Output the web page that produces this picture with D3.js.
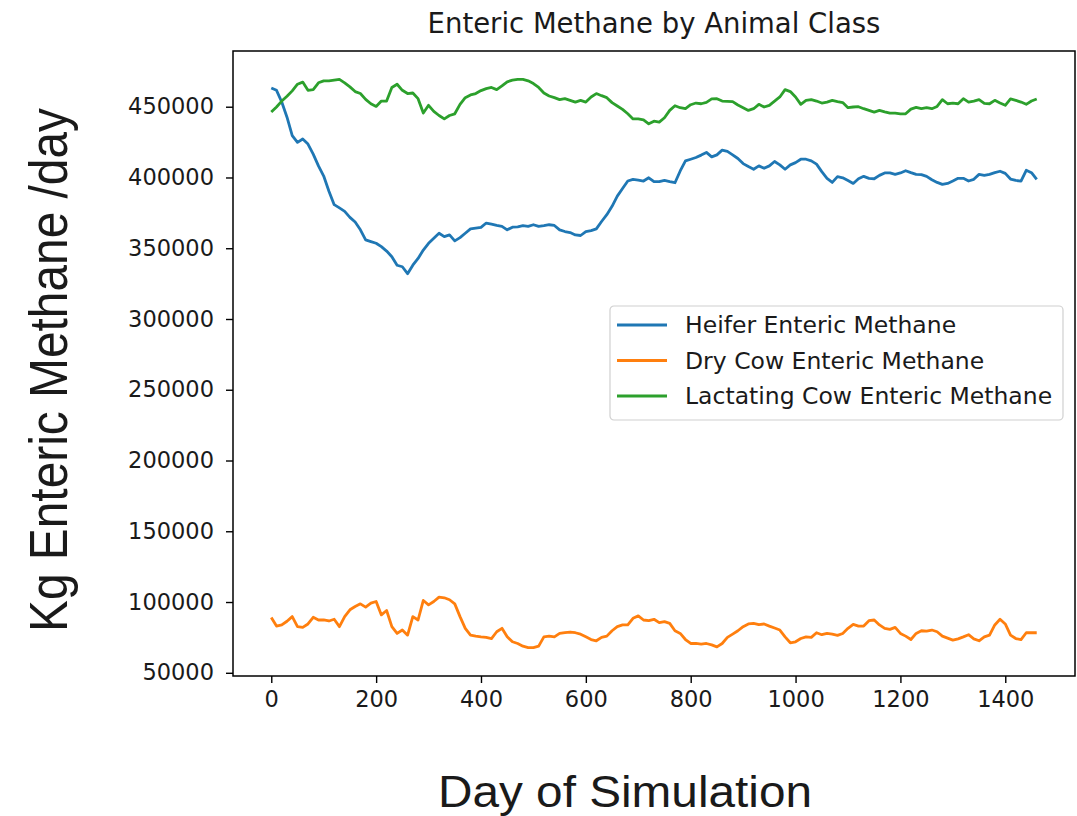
<!DOCTYPE html>
<html>
<head>
<meta charset="utf-8">
<script src="https://cdn.jsdelivr.net/npm/d3@7"></script>
<style>
  html, body { margin: 0; padding: 0; background: #fff; }
  svg text { fill: #1a1a1a; }
</style>
</head>
<body>
<div id="chart"></div>
<script>
// sampled every 10 days of the simulation, days 0..1460
let stepDays = 10
let days = d3.range(0, 1461, stepDays)

let heifer = [
  463300, 461600, 453300, 442600, 429600, 424800, 427200, 423600, 416500, 408200,
  401000, 390300, 380800, 378500, 376100, 371800, 368500, 363000, 355900, 354700,
  353500, 351100, 348000, 344000, 338000, 336900, 332000, 338000, 342800, 348700,
  353500, 357100, 360600, 358200, 359400, 355200, 357500, 360600, 363700, 364200,
  364700, 367800, 367000, 366100, 365400, 363000, 364900, 365100, 365900, 365400,
  366600, 365400, 365900, 366600, 366100, 363000, 361800, 361100, 359400, 359000,
  361800, 362500, 363700, 368900, 373700, 379600, 386800, 392200, 397500, 398700,
  398200, 397500, 399800, 397000, 397000, 397900, 397000, 396300, 404600, 411700,
  412900, 414100, 415800, 417700, 414600, 416000, 419300, 418400, 416000, 413400,
  409800, 407700, 405800, 408200, 406500, 408200, 411300, 408900, 405800, 408900,
  410500, 412900, 412900, 411700, 409400, 404100, 399400, 396500, 400600, 399800,
  397900, 395800, 399100, 400800, 399400, 399100, 401500, 403200, 403200, 402200,
  403200, 404800, 403400, 402200, 402000, 400800, 398400, 396500, 395100, 395800,
  397500, 399400, 399400, 397500, 398700, 402200, 401500, 402200, 403400, 404400,
  402900, 398900, 397900, 397500, 405100, 403400, 398700
]

let dryCow = [
  89000, 83000, 83800, 86400, 89700, 82600, 82100, 84500, 89200, 87300,
  87300, 86600, 87800, 82600, 89700, 94500, 96800, 98700, 96400, 99200,
  100400, 90900, 94000, 82600, 77800, 80200, 76600, 89700, 87300, 101100,
  98000, 100400, 103500, 103000, 101600, 98700, 89700, 81400, 76600, 75900,
  75400, 75000, 74200, 79000, 81400, 75400, 71900, 70700, 68800, 67800,
  67800, 68800, 75400, 75900, 75400, 77800, 78300, 78800, 78300, 77300,
  75400, 73500, 72600, 75000, 75900, 79700, 82600, 83800, 83800, 88500,
  90200, 87300, 86800, 87800, 85400, 86100, 84900, 79700, 77800, 73500,
  70700, 70700, 70200, 70700, 69700, 68300, 70700, 75000, 77300, 79700,
  82600, 84500, 84900, 84000, 84500, 83000, 81600, 80200, 75400, 71200,
  71900, 74200, 75400, 75000, 78300, 76900, 77800, 77300, 76400, 77800,
  81400, 84200, 83000, 83000, 86800, 87300, 83800, 81400, 80700, 82100,
  77800, 75900, 73500, 77800, 79700, 79500, 80200, 79000, 75900, 74500,
  73100, 74000, 75400, 76900, 74000, 72600, 75400, 76600, 83800, 87800,
  84500, 76600, 74200, 73500, 78300, 78300, 78300
]

let lactating = [
  446200, 449800, 454000, 457400, 461200, 465900, 467400, 461600, 462100, 466900,
  468300, 468300, 468800, 469300, 466900, 464000, 460700, 459300, 455200, 452100,
  450200, 454000, 454000, 463600, 465900, 461600, 459300, 459700, 455700, 445500,
  451000, 446700, 443800, 441400, 443800, 445000, 451700, 456400, 458300, 459300,
  461400, 462800, 463600, 462100, 464700, 467600, 468800, 469300, 469300, 468300,
  466400, 463600, 459700, 457600, 456400, 455000, 455700, 454500, 453300, 454500,
  453300, 456900, 459300, 457800, 456400, 452900, 450500, 448100, 445000, 441400,
  441400, 440700, 437900, 439800, 439100, 442200, 447400, 450700, 449300, 448600,
  451400, 452600, 452100, 453100, 455500, 455700, 454000, 453800, 453600, 451200,
  449300, 447400, 448600, 451700, 449800, 451000, 454000, 456900, 462100, 460700,
  456900, 451700, 454500, 455000, 454000, 452600, 453300, 454500, 453600, 452900,
  449300, 449800, 450000, 448600, 447400, 446200, 447400, 446400, 445500, 445500,
  445000, 445000, 448300, 449500, 448600, 449300, 448600, 450200, 455000, 452100,
  452600, 452100, 455700, 453300, 454000, 455000, 452400, 452100, 454500, 452600,
  451000, 455500, 454500, 453300, 451700, 454000, 455500
]

let seriesNames = ['Heifer Enteric Methane', 'Dry Cow Enteric Methane', 'Lactating Cow Enteric Methane']
let seriesColors = ['#1f77b4', '#ff7f0e', '#2ca02c']
let xTicks = [0, 200, 400, 600, 800, 1000, 1200, 1400]
let yTicks = [50000, 100000, 150000, 200000, 250000, 300000, 350000, 400000, 450000]

let chartTitle = 'Enteric Methane by Animal Class'
let xLabel = 'Day of Simulation'
let yLabel = 'Kg Enteric Methane /day'

let width = 1077
let height = 816
let plot = { left: 233, right: 1075, top: 51, bottom: 676 }

let svg = d3.select('#chart')
  .append('svg')
  .attr('width', width)
  .attr('height', height)

// matplotlib style 5% margins around the data
let xMin = 0, xMax = 1460
let allY = heifer.concat(dryCow, lactating)
let yMin = d3.min(allY), yMax = d3.max(allY)
let xPad = (xMax - xMin) * 0.05
let yPad = (yMax - yMin) * 0.05

let x = d3.scaleLinear()
  .domain([xMin - xPad, xMax + xPad])
  .range([plot.left, plot.right])

let y = d3.scaleLinear()
  .domain([yMin - yPad, yMax + yPad])
  .range([plot.bottom, plot.top])

let tickFont = 'DejaVu Sans, sans-serif'

let xAxis = svg.append('g')
  .attr('transform', `translate(0,${plot.bottom})`)
  .call(d3.axisBottom(x).tickValues(xTicks).tickSize(7).tickPadding(8).tickFormat(d3.format('d')))
xAxis.select('.domain').remove()
xAxis.selectAll('line').attr('stroke', '#000').attr('stroke-width', 1.4)
xAxis.selectAll('text')
  .attr('font-family', tickFont)
  .attr('font-size', 22.5)
  .attr('fill', '#222')

let yAxis = svg.append('g')
  .attr('transform', `translate(${plot.left},0)`)
  .call(d3.axisLeft(y).tickValues(yTicks).tickSize(7).tickPadding(12).tickFormat(d3.format('d')))
yAxis.select('.domain').remove()
yAxis.selectAll('line').attr('stroke', '#000').attr('stroke-width', 1.4)
yAxis.selectAll('text')
  .attr('font-family', tickFont)
  .attr('font-size', 22.5)
  .attr('fill', '#222')

let line = d3.line()
  .x((d, i) => x(days[i]))
  .y(d => y(d))

let allSeries = [heifer, dryCow, lactating]
svg.append('g')
  .selectAll('path')
  .data(allSeries)
  .enter()
  .append('path')
  .attr('d', d => line(d))
  .attr('fill', 'none')
  .attr('stroke', (d, i) => seriesColors[i])
  .attr('stroke-width', 2.8)
  .attr('stroke-linejoin', 'round')

// spines
svg.append('rect')
  .attr('x', plot.left)
  .attr('y', plot.top)
  .attr('width', plot.right - plot.left)
  .attr('height', plot.bottom - plot.top)
  .attr('fill', 'none')
  .attr('stroke', '#000')
  .attr('stroke-width', 1.5)

// legend
let legend = svg.append('g').attr('transform', 'translate(610,306)')
legend.append('rect')
  .attr('width', 453)
  .attr('height', 114)
  .attr('rx', 4)
  .attr('fill', '#fff')
  .attr('fill-opacity', 0.8)
  .attr('stroke', '#d0d0d0')
  .attr('stroke-width', 1.2)

let rows = legend.selectAll('g.row')
  .data(seriesNames)
  .enter()
  .append('g')
  .attr('class', 'row')
  .attr('transform', (d, i) => `translate(0,${19 + i * 35.5})`)
rows.append('line')
  .attr('x1', 7)
  .attr('x2', 57)
  .attr('stroke', (d, i) => seriesColors[i])
  .attr('stroke-width', 2.8)
rows.append('text')
  .attr('x', 75)
  .attr('dy', '0.35em')
  .attr('font-family', tickFont)
  .attr('font-size', 23.5)
  .attr('fill', '#222')
  .text(d => d)

svg.append('text')
  .attr('x', (plot.left + plot.right) / 2)
  .attr('y', 33)
  .attr('text-anchor', 'middle')
  .attr('font-family', tickFont)
  .attr('font-size', 27.5)
  .attr('fill', '#222')
  .text(chartTitle)

svg.append('text')
  .attr('x', 625)
  .attr('y', 807)
  .attr('text-anchor', 'middle')
  .attr('font-family', 'Liberation Sans, Arial, sans-serif')
  .attr('font-size', 45)
  .attr('textLength', 374)
  .attr('lengthAdjust', 'spacingAndGlyphs')
  .attr('fill', '#000')
  .text(xLabel)

svg.append('text')
  .attr('transform', 'translate(67,370) rotate(-90)')
  .attr('text-anchor', 'middle')
  .attr('font-family', 'Liberation Sans, Arial, sans-serif')
  .attr('font-size', 54)
  .attr('textLength', 524)
  .attr('lengthAdjust', 'spacingAndGlyphs')
  .attr('fill', '#000')
  .text(yLabel)
</script>
</body>
</html>
